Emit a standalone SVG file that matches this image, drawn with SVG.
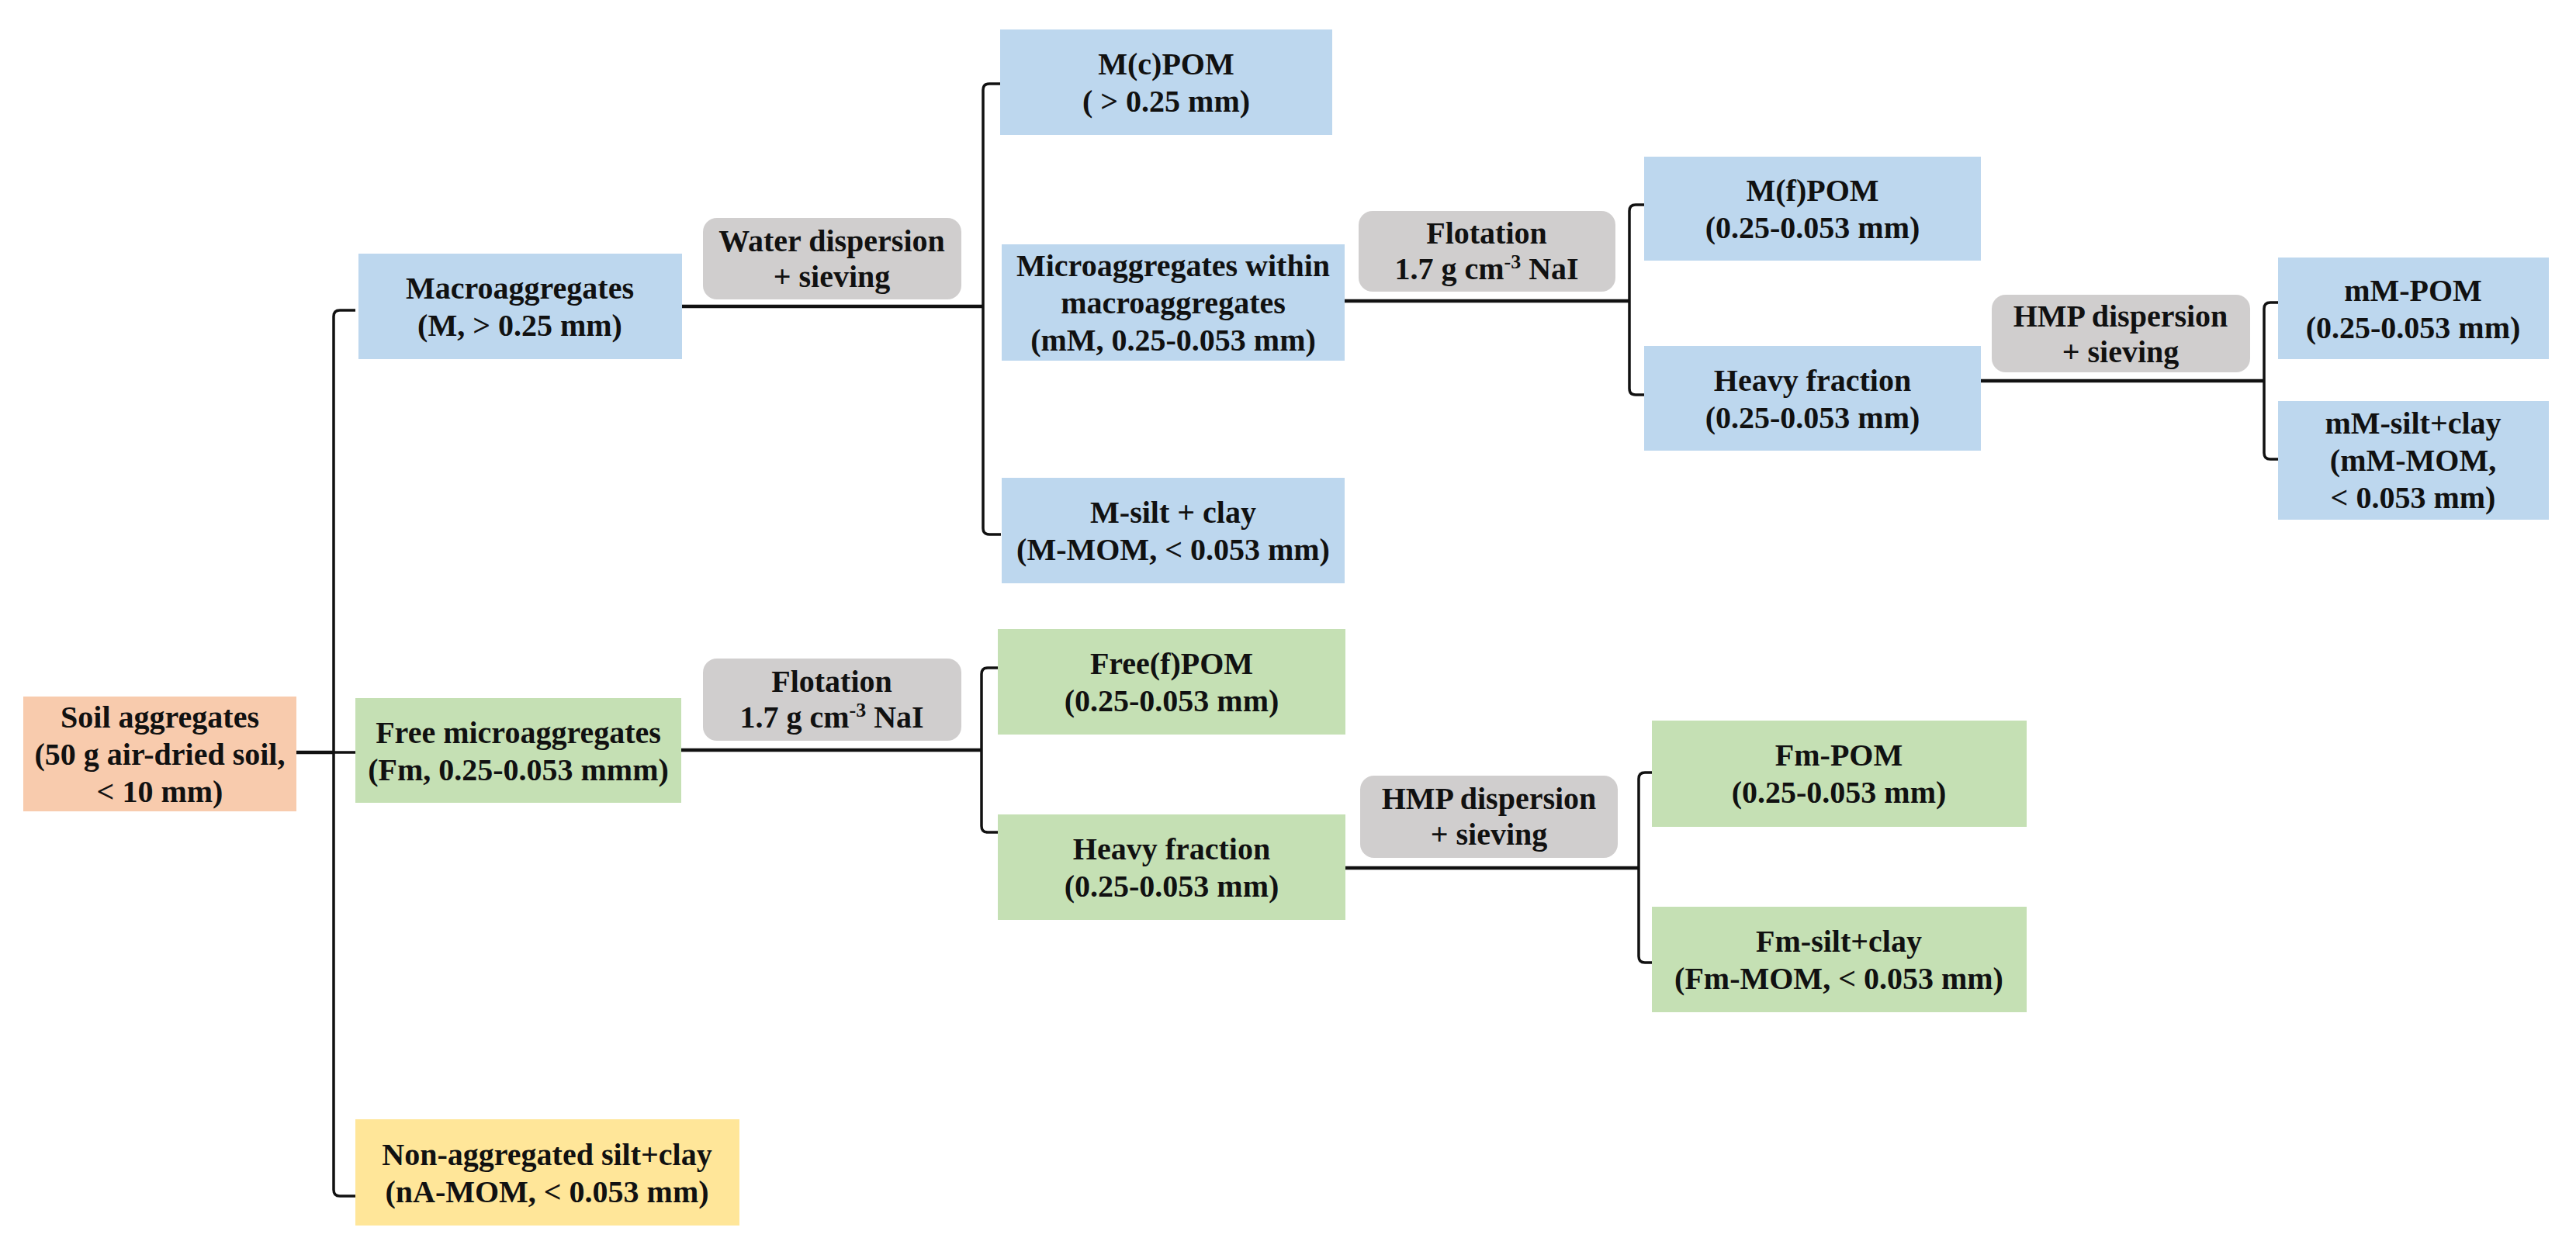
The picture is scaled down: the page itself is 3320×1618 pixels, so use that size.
<svg xmlns="http://www.w3.org/2000/svg" width="3320" height="1618" viewBox="0 0 3320 1618">
<style>
.b{fill:#bdd7ee}.g{fill:#c5e0b4}.o{fill:#f8cbad}.y{fill:#ffe699}.p{fill:#d0cece}
text{font-family:"Liberation Serif","Times New Roman",serif;font-weight:bold;font-size:40px;text-anchor:middle;fill:#111}
.c{fill:none;stroke:#111;stroke-width:3.5}
.m{fill:none;stroke:#111;stroke-width:4.5}
</style>
<rect width="3320" height="1618" fill="#fff"/>
<g id="connectors">
<path class="m" d="M382 970 H430"/>
<path class="c" d="M458 400 H438 Q430 400 430 408 V1534 Q430 1542 438 1542 H458 M430 970 H458"/>
<path class="m" d="M879 395 H1267"/>
<path class="c" d="M1290 108 H1275 Q1267 108 1267 116 V681 Q1267 689 1275 689 H1290"/>
<path class="m" d="M1733 388 H2100"/>
<path class="c" d="M2119 264 H2108 Q2100 264 2100 272 V501 Q2100 509 2108 509 H2119"/>
<path class="m" d="M2553 491 H2918"/>
<path class="c" d="M2936 390 H2926 Q2918 390 2918 398 V584 Q2918 592 2926 592 H2936"/>
<path class="m" d="M878 967 H1265"/>
<path class="c" d="M1286 861 H1273 Q1265 861 1265 869 V1065 Q1265 1073 1273 1073 H1286"/>
<path class="m" d="M1734 1119 H2112"/>
<path class="c" d="M2129 996 H2120 Q2112 996 2112 1004 V1233 Q2112 1241 2120 1241 H2129"/>
</g>
<g id="soil"><rect class="o" x="30" y="898" width="352" height="148"/><text x="206" y="938">Soil aggregates</text><text x="206" y="986">(50 g air-dried soil,</text><text x="206" y="1034">&lt; 10 mm)</text></g>
<g id="macro"><rect class="b" x="462" y="327" width="417" height="136"/><text x="670" y="385">Macroaggregates</text><text x="670" y="433">(M,  &gt; 0.25 mm)</text></g>
<g id="freemicro"><rect class="g" x="458" y="900" width="420" height="135"/><text x="668" y="958">Free microaggregates</text><text x="668" y="1006">(Fm, 0.25-0.053 mmm)</text></g>
<g id="nonagg"><rect class="y" x="458" y="1443" width="495" height="137"/><text x="705" y="1502">Non-aggregated silt+clay</text><text x="705" y="1550">(nA-MOM,  &lt; 0.053 mm)</text></g>
<g id="water"><rect class="p" x="906" y="281" width="333" height="105" rx="18"/><text x="1072" y="324">Water dispersion</text><text x="1072" y="370">+ sieving</text></g>
<g id="mcpom"><rect class="b" x="1289" y="38" width="428" height="136"/><text x="1503" y="96">M(c)POM</text><text x="1503" y="144">( &gt; 0.25 mm)</text></g>
<g id="mM"><rect class="b" x="1291" y="315" width="442" height="150"/><text x="1512" y="356">Microaggregates within</text><text x="1512" y="404">macroaggregates</text><text x="1512" y="452">(mM, 0.25-0.053 mm)</text></g>
<g id="msilt"><rect class="b" x="1291" y="616" width="442" height="136"/><text x="1512" y="674">M-silt + clay</text><text x="1512" y="722">(M-MOM, &lt; 0.053 mm)</text></g>
<g id="flot1"><rect class="p" x="1751" y="272" width="331" height="104" rx="18"/><text x="1916" y="314">Flotation</text><text x="1916" y="360">1.7 g cm<tspan font-size="26" dy="-14">-3</tspan><tspan dy="14"> NaI</tspan></text></g>
<g id="mfpom"><rect class="b" x="2119" y="202" width="434" height="134"/><text x="2336" y="259">M(f)POM</text><text x="2336" y="307">(0.25-0.053 mm)</text></g>
<g id="heavyM"><rect class="b" x="2119" y="446" width="434" height="135"/><text x="2336" y="504">Heavy fraction</text><text x="2336" y="552">(0.25-0.053 mm)</text></g>
<g id="hmp1"><rect class="p" x="2567" y="380" width="333" height="100" rx="18"/><text x="2733" y="421">HMP dispersion</text><text x="2733" y="467">+ sieving</text></g>
<g id="mmpom"><rect class="b" x="2936" y="332" width="349" height="131"/><text x="3110" y="388">mM-POM</text><text x="3110" y="436">(0.25-0.053 mm)</text></g>
<g id="mmsilt"><rect class="b" x="2936" y="517" width="349" height="153"/><text x="3110" y="559">mM-silt+clay</text><text x="3110" y="607">(mM-MOM,</text><text x="3110" y="655">&lt; 0.053 mm)</text></g>
<g id="flot2"><rect class="p" x="906" y="849" width="333" height="106" rx="18"/><text x="1072" y="892">Flotation</text><text x="1072" y="938">1.7 g cm<tspan font-size="26" dy="-14">-3</tspan><tspan dy="14"> NaI</tspan></text></g>
<g id="freefpom"><rect class="g" x="1286" y="811" width="448" height="136"/><text x="1510" y="869">Free(f)POM</text><text x="1510" y="917">(0.25-0.053 mm)</text></g>
<g id="heavyF"><rect class="g" x="1286" y="1050" width="448" height="136"/><text x="1510" y="1108">Heavy fraction</text><text x="1510" y="1156">(0.25-0.053 mm)</text></g>
<g id="hmp2"><rect class="p" x="1753" y="1000" width="332" height="106" rx="18"/><text x="1919" y="1043">HMP dispersion</text><text x="1919" y="1089">+ sieving</text></g>
<g id="fmpom"><rect class="g" x="2129" y="929" width="483" height="137"/><text x="2370" y="987">Fm-POM</text><text x="2370" y="1035">(0.25-0.053 mm)</text></g>
<g id="fmsilt"><rect class="g" x="2129" y="1169" width="483" height="136"/><text x="2370" y="1227">Fm-silt+clay</text><text x="2370" y="1275">(Fm-MOM, &lt; 0.053 mm)</text></g>
</svg>
